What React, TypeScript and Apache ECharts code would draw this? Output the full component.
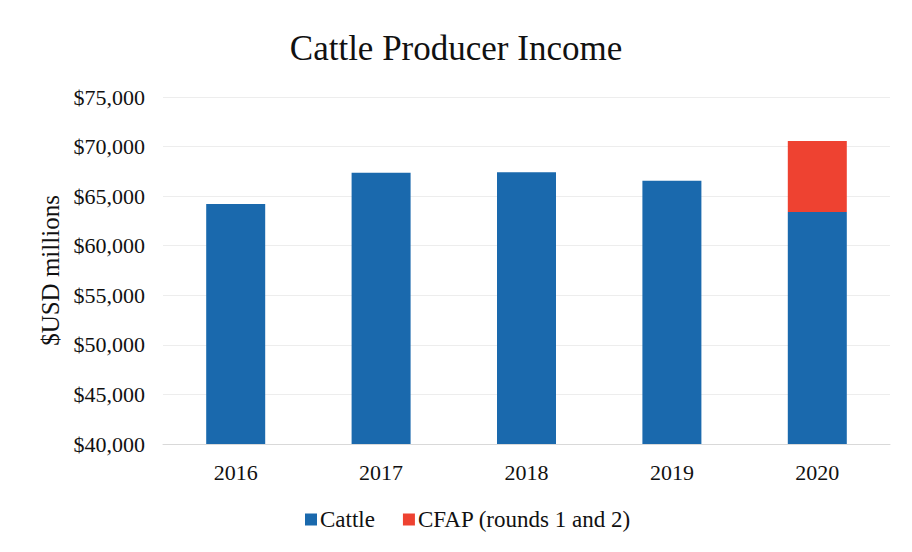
import React, { useEffect, useRef } from "react";
import * as echarts from "echarts";

const years = ["2016", "2017", "2018", "2019", "2020"];
const cattle = [64200, 67350, 67400, 66550, 63400];
const cfap: (number | string)[] = ["-", "-", "-", "-", 7150];
const yMin = 40000;
const yMax = 75000;
const yStep = 5000;

const FONT = '"Liberation Serif", "Times New Roman", serif';

export default function App() {
  const ref = useRef<HTMLDivElement>(null);
  useEffect(() => {
    if (!ref.current) return;
    const chart = echarts.init(ref.current, undefined, { renderer: "svg" });
    chart.setOption({
      animation: false,
      backgroundColor: "#ffffff",
      textStyle: { fontFamily: FONT, color: "#111" },
      title: {
        text: "Cattle Producer Income",
        left: "center",
        top: 26,
        textStyle: { fontFamily: FONT, fontSize: 35, fontWeight: "normal", color: "#111" },
      },
      legend: {
        bottom: 16,
        left: 300,
        icon: "rect",
        itemWidth: 12,
        itemHeight: 12,
        itemGap: 28,
        textStyle: { fontFamily: FONT, fontSize: 23, color: "#111", padding: [0, 0, 0, -2] },
        data: ["Cattle", "CFAP (rounds 1 and 2)"],
      },
      grid: { left: 163, right: 22, top: 97, bottom: 108, containLabel: false },
      xAxis: {
        type: "category",
        data: years,
        axisLine: { show: true, lineStyle: { color: "#d9d9d9", width: 1 } },
        axisTick: { show: false },
        axisLabel: { fontFamily: FONT, fontSize: 22, color: "#111", margin: 17 },
      },
      yAxis: {
        type: "value",
        min: yMin,
        max: yMax,
        interval: yStep,
        name: "$USD millions",
        nameLocation: "middle",
        nameGap: 100,
        nameTextStyle: { fontFamily: FONT, fontSize: 25, color: "#111" },
        axisLine: { show: false },
        axisTick: { show: false },
        splitLine: { lineStyle: { color: "#ededed", width: 1 } },
        axisLabel: {
          fontFamily: FONT,
          fontSize: 22,
          color: "#111",
          margin: 18,
          formatter: (v: number) => "$" + v.toLocaleString("en-US"),
        },
      },
      series: [
        {
          name: "Cattle",
          type: "bar",
          stack: "total",
          data: cattle,
          barWidth: 59,
          itemStyle: { color: "#1a69ad" },
        },
        {
          name: "CFAP (rounds 1 and 2)",
          type: "bar",
          stack: "total",
          data: cfap,
          barWidth: 59,
          itemStyle: { color: "#ee4231" },
        },
      ],
    });
    return () => chart.dispose();
  }, []);
  return (
    <div
      ref={ref}
      style={{ position: "fixed", left: 0, top: 0, width: 912, height: 552 }}
    />
  );
}
